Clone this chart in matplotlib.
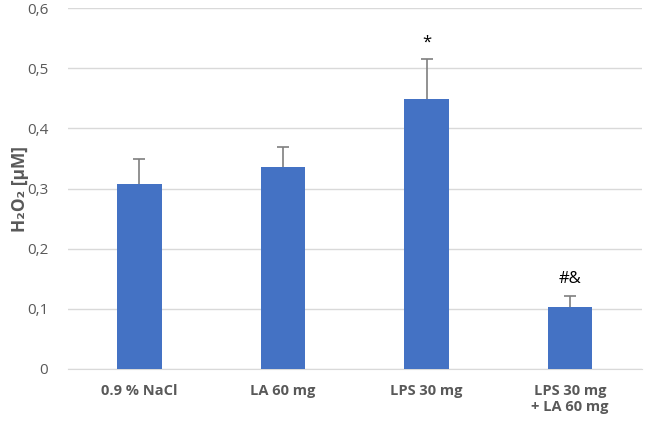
import matplotlib
matplotlib.use("Agg")
import matplotlib.pyplot as plt
from matplotlib.ticker import FuncFormatter

groups = ["0.9 % NaCl", "LA 60 mg", "LPS 30 mg", "LPS 30 mg\n+ LA 60 mg"]
means = [0.307, 0.336, 0.449, 0.103]
errors = [0.042, 0.033, 0.066, 0.019]
marks = ["", "", "*", "#&"]

plt.rcParams['font.family'] = ['Open Sans', 'DejaVu Sans']

fig = plt.figure(figsize=(6.45, 4.26), dpi=100)
ax = fig.add_axes([0.105, 0.134, 0.89, 0.847])

x = range(len(groups))
ax.bar(x, means, width=0.31, color="#4472C4", zorder=3)
eb = ax.errorbar(x, means, yerr=[[0] * len(errors), errors], fmt="none",
                 ecolor="#7f7f7f", elinewidth=1.2, capsize=4, capthick=1.2, zorder=4)
# only the upper cap is wanted
eb[1][0].set_visible(False)

for i, (m, e, t) in enumerate(zip(means, errors, marks)):
    if t:
        ax.text(i, m + e + 0.015, t, ha="center", va="bottom", fontsize=12, color="black")

ax.set_xlim(-0.5, len(groups) - 0.5)
ax.set_ylim(0, 0.6)
ax.set_yticks([0, 0.1, 0.2, 0.3, 0.4, 0.5, 0.6])
ax.yaxis.set_major_formatter(FuncFormatter(lambda v, p: "0" if v == 0 else f"{v:.1f}".replace(".", ",")))
ax.grid(axis="y", color="#d9d9d9", linewidth=1, zorder=0)
for s in ["top", "right", "left"]:
    ax.spines[s].set_visible(False)
ax.spines["bottom"].set_color("#d9d9d9")
ax.tick_params(axis="both", length=0, colors="#595959")
ax.tick_params(axis="y", labelsize=11, pad=14)
ax.tick_params(axis="x", labelsize=10.5, pad=11)
ax.set_xticks(list(x))
ax.set_xticklabels(groups, fontweight="bold")
ax.set_ylabel("H₂O₂ [µM]", fontweight="bold", color="#595959", fontsize=12.5)
ax.yaxis.set_label_coords(-0.068, 0.5)

fig.savefig("out.png", dpi=100)
